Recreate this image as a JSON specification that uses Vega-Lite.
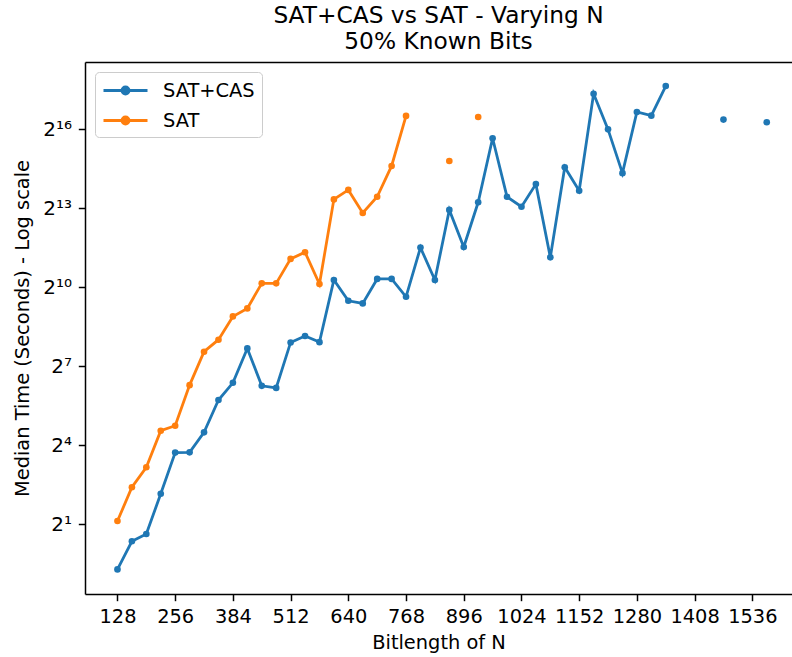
{
  "$schema": "https://vega.github.io/schema/vega-lite/v6.json",
  "width": 707,
  "height": 532,
  "autosize": {"type": "none"},
  "padding": {"left": 85, "top": 62, "right": 0, "bottom": 63},
  "background": "white",
  "config": {
    "view": {"stroke": null},
    "font": "DejaVu Sans",
    "axis": {
      "labelFont": "DejaVu Sans",
      "titleFont": "DejaVu Sans",
      "labelFontSize": 19.4,
      "titleFontSize": 19.4,
      "titleFontWeight": "normal",
      "labelColor": "black",
      "titleColor": "black",
      "domainColor": "black",
      "tickColor": "black",
      "domainWidth": 1.5,
      "tickWidth": 1.5,
      "tickSize": 6.7,
      "labelPadding": 6.7,
      "grid": false
    }
  },
  "title": {
    "text": ["SAT+CAS vs SAT - Varying N", "50% Known Bits"],
    "font": "DejaVu Sans",
    "fontSize": 23.3,
    "fontWeight": "normal",
    "color": "black",
    "anchor": "middle",
    "lineHeight": 26,
    "offset": 8
  },
  "data": {
    "values": [
      {"N": 128, "method": "SAT+CAS", "time": 0.61},
      {"N": 160, "method": "SAT+CAS", "time": 1.28},
      {"N": 192, "method": "SAT+CAS", "time": 1.55},
      {"N": 224, "method": "SAT+CAS", "time": 4.47},
      {"N": 256, "method": "SAT+CAS", "time": 13.2},
      {"N": 288, "method": "SAT+CAS", "time": 13.3},
      {"N": 320, "method": "SAT+CAS", "time": 22.5},
      {"N": 352, "method": "SAT+CAS", "time": 52.7},
      {"N": 384, "method": "SAT+CAS", "time": 83},
      {"N": 416, "method": "SAT+CAS", "time": 205},
      {"N": 448, "method": "SAT+CAS", "time": 76.6},
      {"N": 480, "method": "SAT+CAS", "time": 72.5},
      {"N": 512, "method": "SAT+CAS", "time": 240},
      {"N": 544, "method": "SAT+CAS", "time": 284},
      {"N": 576, "method": "SAT+CAS", "time": 242},
      {"N": 608, "method": "SAT+CAS", "time": 1243},
      {"N": 640, "method": "SAT+CAS", "time": 719},
      {"N": 672, "method": "SAT+CAS", "time": 671},
      {"N": 704, "method": "SAT+CAS", "time": 1278},
      {"N": 736, "method": "SAT+CAS", "time": 1278},
      {"N": 768, "method": "SAT+CAS", "time": 798},
      {"N": 800, "method": "SAT+CAS", "time": 2916},
      {"N": 832, "method": "SAT+CAS", "time": 1243},
      {"N": 864, "method": "SAT+CAS", "time": 7860},
      {"N": 896, "method": "SAT+CAS", "time": 2960},
      {"N": 928, "method": "SAT+CAS", "time": 9610},
      {"N": 960, "method": "SAT+CAS", "time": 51800},
      {"N": 992, "method": "SAT+CAS", "time": 11100},
      {"N": 1024, "method": "SAT+CAS", "time": 8540},
      {"N": 1056, "method": "SAT+CAS", "time": 15500},
      {"N": 1088, "method": "SAT+CAS", "time": 2256},
      {"N": 1120, "method": "SAT+CAS", "time": 24200},
      {"N": 1152, "method": "SAT+CAS", "time": 13000},
      {"N": 1184, "method": "SAT+CAS", "time": 166900},
      {"N": 1216, "method": "SAT+CAS", "time": 65500},
      {"N": 1248, "method": "SAT+CAS", "time": 20700},
      {"N": 1280, "method": "SAT+CAS", "time": 103600},
      {"N": 1312, "method": "SAT+CAS", "time": 94000},
      {"N": 1344, "method": "SAT+CAS", "time": 205000},
      {"N": 1376, "method": "SAT+CAS", "time": null},
      {"N": 1408, "method": "SAT+CAS", "time": null},
      {"N": 1440, "method": "SAT+CAS", "time": null},
      {"N": 1472, "method": "SAT+CAS", "time": 84800},
      {"N": 1504, "method": "SAT+CAS", "time": null},
      {"N": 1536, "method": "SAT+CAS", "time": null},
      {"N": 1568, "method": "SAT+CAS", "time": 79000},
      {"N": 128, "method": "SAT", "time": 2.18},
      {"N": 160, "method": "SAT", "time": 5.3},
      {"N": 192, "method": "SAT", "time": 8.97},
      {"N": 224, "method": "SAT", "time": 23.5},
      {"N": 256, "method": "SAT", "time": 26.8},
      {"N": 288, "method": "SAT", "time": 78},
      {"N": 320, "method": "SAT", "time": 188},
      {"N": 352, "method": "SAT", "time": 258},
      {"N": 384, "method": "SAT", "time": 476},
      {"N": 416, "method": "SAT", "time": 588},
      {"N": 448, "method": "SAT", "time": 1137},
      {"N": 480, "method": "SAT", "time": 1137},
      {"N": 512, "method": "SAT", "time": 2164},
      {"N": 544, "method": "SAT", "time": 2580},
      {"N": 576, "method": "SAT", "time": 1118},
      {"N": 608, "method": "SAT", "time": 10370},
      {"N": 640, "method": "SAT", "time": 13300},
      {"N": 672, "method": "SAT", "time": 7240},
      {"N": 704, "method": "SAT", "time": 11100},
      {"N": 736, "method": "SAT", "time": 25000},
      {"N": 768, "method": "SAT", "time": 93400},
      {"N": 800, "method": "SAT", "time": null},
      {"N": 832, "method": "SAT", "time": null},
      {"N": 864, "method": "SAT", "time": 28500},
      {"N": 896, "method": "SAT", "time": null},
      {"N": 928, "method": "SAT", "time": 90800}
    ]
  },
  "layer": [
    {
      "mark": {"type": "line", "strokeWidth": 2.8, "invalid": "break-paths-filter-domains"},
      "encoding": {
        "x": {
          "field": "N",
          "type": "quantitative",
          "scale": {"domain": [56, 1624], "nice": false, "zero": false},
          "axis": {
            "title": "Bitlength of N",
            "values": [128, 256, 384, 512, 640, 768, 896, 1024, 1152, 1280, 1408, 1536],
            "format": "d",
            "titlePadding": 8
          }
        },
        "y": {
          "field": "time",
          "type": "quantitative",
          "scale": {"type": "log", "base": 2, "domain": [0.3193, 385900], "nice": false},
          "axis": {
            "title": "Median Time (Seconds) - Log scale",
            "values": [2, 16, 128, 1024, 8192, 65536],
            "labelExpr": "round(log(datum.value)/LN2) == 1 ? '2¹' : round(log(datum.value)/LN2) == 4 ? '2⁴' : round(log(datum.value)/LN2) == 7 ? '2⁷' : round(log(datum.value)/LN2) == 10 ? '2¹⁰' : round(log(datum.value)/LN2) == 13 ? '2¹³' : '2¹⁶'",
            "labelFontSize": 20,
            "titlePadding": 10
          }
        },
        "color": {
          "field": "method",
          "type": "nominal",
          "scale": {"domain": ["SAT+CAS", "SAT"], "range": ["#1f77b4", "#ff7f0e"]},
          "legend": {
            "title": null,
            "orient": "top-left",
            "offset": 10,
            "padding": 7,
            "strokeColor": "#cccccc",
            "fillColor": "rgba(255,255,255,0.8)",
            "cornerRadius": 4,
            "labelFont": "DejaVu Sans",
            "labelFontSize": 19.4,
            "labelColor": "black",
            "symbolType": "M-2.2,0H2.2M-0.35,0A0.35,0.35 0 1,0 0.35,0A0.35,0.35 0 1,0 -0.35,0Z",
            "symbolSize": 400,
            "symbolStrokeWidth": 2.8,
            "symbolOffset": 12,
            "labelOffset": 26,
            "rowPadding": 9,
            "encode": {
              "symbols": {"update": {"fill": {"scale": "color", "field": "value"}, "stroke": {"scale": "color", "field": "value"}}}
            }
          }
        }
      }
    },
    {
      "mark": {"type": "point", "filled": true, "opacity": 1, "size": 44, "invalid": "filter"},
      "encoding": {
        "x": {"field": "N", "type": "quantitative", "axis": null},
        "y": {"field": "time", "type": "quantitative", "axis": null},
        "color": {"field": "method", "type": "nominal"}
      }
    },
    {
      "mark": {"type": "point", "opacity": 0, "invalid": "filter"},
      "encoding": {
        "x": {
          "field": "N",
          "type": "quantitative",
          "axis": {"orient": "top", "labels": false, "ticks": false, "title": null, "domain": true}
        },
        "y": {"field": "time", "type": "quantitative", "axis": null}
      }
    }
  ],
  "resolve": {"axis": {"x": "independent", "y": "independent"}}
}
